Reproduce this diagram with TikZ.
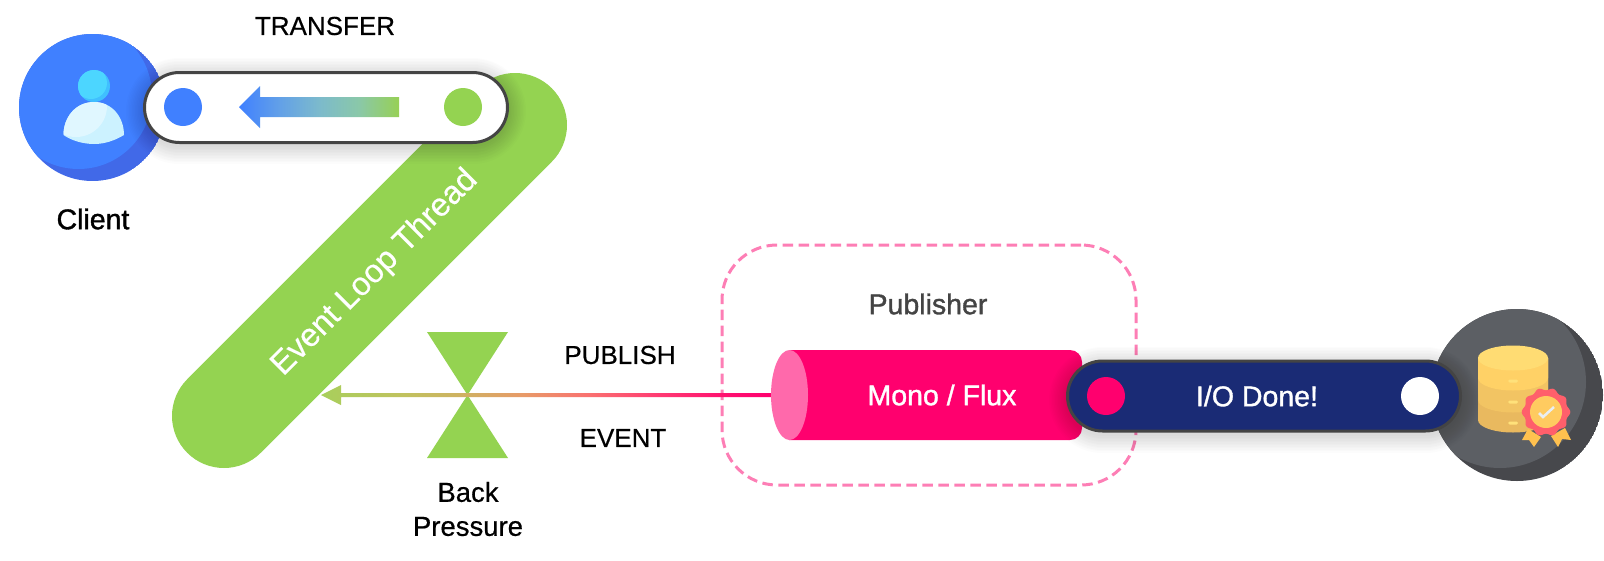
\documentclass[tikz,border=0pt]{standalone}
\usepackage{fontspec}
\setmainfont{Liberation Sans}
\newfontfamily\medfont[FakeBold=1.2]{Liberation Sans}
\newfontfamily\plainfont[FakeBold=0.5]{Liberation Sans}
\usetikzlibrary{calc,shapes.geometric,shapes.misc}

\definecolor{threadgreen}{HTML}{94D351}
\definecolor{clientblue}{HTML}{4080FF}
\definecolor{clientdark}{HTML}{4169E8}
\definecolor{headlight}{HTML}{4CD6FF}
\definecolor{headdark}{HTML}{40BFFF}
\definecolor{bodylight}{HTML}{E0F7FF}
\definecolor{bodydark}{HTML}{CCF2FF}
\definecolor{monopink}{HTML}{FF006E}
\definecolor{monoend}{HTML}{FF69AB}
\definecolor{boxpink}{HTML}{FD7EB5}
\definecolor{donenavy}{HTML}{1A2B75}
\definecolor{pillrim}{HTML}{444444}
\definecolor{dbdark}{HTML}{47484C}
\definecolor{dblight}{HTML}{5C5F64}
\definecolor{dbtop}{HTML}{FFDC73}
\definecolor{dbone}{HTML}{FFD166}
\definecolor{dbtwo}{HTML}{F2C463}
\definecolor{dbthree}{HTML}{E9B95F}
\definecolor{dbmark}{HTML}{FFE17A}
\definecolor{ribbon}{HTML}{FFC14F}
\definecolor{badgered}{HTML}{FF5F6B}
\definecolor{badgegold}{HTML}{FFCB60}
\definecolor{checkgrey}{HTML}{E9EEF2}
\definecolor{flowa}{HTML}{62A0E8}
\definecolor{flowb}{HTML}{7CBACC}
\definecolor{flowc}{HTML}{8AC8A8}
\definecolor{flowd}{HTML}{97D055}
\definecolor{puba}{HTML}{A8CF5C}
\definecolor{pubb}{HTML}{C0C25E}
\definecolor{pubc}{HTML}{D0B062}
\definecolor{pubd}{HTML}{E89A68}
\definecolor{pube}{HTML}{FA6F70}
\definecolor{pubf}{HTML}{FF3A72}
\definecolor{pubg}{HTML}{FF1070}

\pgfdeclarehorizontalshading{transferflow}{100bp}{color(0bp)=(clientblue); color(25bp)=(clientblue); color(37.5bp)=(flowa);
    color(50bp)=(flowb); color(62.5bp)=(flowc); color(75bp)=(flowd); color(100bp)=(flowd)}
\pgfdeclarehorizontalshading{publishflow}{100bp}{color(0bp)=(puba); color(25bp)=(puba); color(34bp)=(pubb); color(41bp)=(pubc);
    color(47.5bp)=(pubd); color(55bp)=(pube); color(62.5bp)=(pubf); color(70bp)=(pubg); color(75bp)=(monopink); color(100bp)=(monopink)}

\tikzset{
    pill/.style={rounded rectangle, draw=pillrim, line width=3pt, minimum height=70pt, inner sep=0pt},
    portdot/.style={circle, minimum size=38pt, inner sep=0pt},
    plainlabel/.style={font=\plainfont\fontsize{26}{34}\selectfont, inner sep=0pt, align=center},
    medlabel/.style={font=\medfont\fontsize{28.5}{34}\selectfont, inner sep=0pt, align=center}
}

\newcommand{\pillshadow}[1]{
    \foreach \w in {3,6,...,36}
        \draw[black, opacity=.01, line cap=round, line width=70pt+\w pt]
            ($(#1.west)+(36,3)$) -- ($(#1.east)+(-36,3)$);
}
\newcommand{\dblayer}[2]{
    \fill[#1] (1478,358) -- (1478,#2) .. controls (1478,#2+7) and (1494,#2+12.5) .. (1513,#2+12.5)
        .. controls (1532,#2+12.5) and (1548,#2+7) .. (1548,#2) -- (1548,358) -- cycle;
}

\begin{document}
\begin{tikzpicture}[x=1pt, y=-1pt]
    \useasboundingbox (0,0) rectangle (1604,560);

    % event loop band
    \coordinate (bandtop) at (515,125);
    \coordinate (bandend) at (224,416);
    \draw[threadgreen, line width=104pt, line cap=round] (bandtop) -- (bandend);
    \node[plainlabel, text=white, rotate=45, font=\plainfont\fontsize{32.5}{34}\selectfont] (threadlabel) at (375,273) {Event Loop Thread};

    % client
    \begin{scope}
        \clip (92.5,107.5) circle [radius=73.5];
        \fill[clientdark] (92.5,107.5) circle [radius=73.5];
        \fill[clientblue] (78.5,95.5) circle [radius=73.5];
    \end{scope}
    \fill[headdark] (94,86) circle [radius=16];
    \begin{scope}
        \clip (94,86) circle [radius=16];
        \fill[headlight] (91,83) circle [radius=16];
    \end{scope}
    \fill[bodydark] (63.5,135) .. controls (63.5,117) and (76,102) .. (94,102) .. controls (112,102) and (124,117) .. (124,135)
        .. controls (114,141) and (104,144) .. (94,144) .. controls (84,144) and (72,141) .. (63.5,135);
    \begin{scope}
        \clip (63.5,135) .. controls (63.5,117) and (76,102) .. (94,102) .. controls (112,102) and (124,117) .. (124,135)
            .. controls (114,141) and (104,144) .. (94,144) .. controls (84,144) and (72,141) .. (63.5,135);
        \fill[bodylight] (76,106) circle [radius=31];
    \end{scope}
    \node[medlabel] (client) at (93,219) {Client};

    % transfer
    \node[plainlabel] (transfer) at (325,26) {TRANSFER};
    \node[pill, minimum width=363pt, draw=none] (transferpill) at (326,107.5) {};
    \pillshadow{transferpill}
    \node[pill, minimum width=363pt, fill=white] (transferpill) at (326,107.5) {};
    \node[portdot, fill=clientblue] (transferin) at (183,107) {};
    \node[portdot, fill=threadgreen] (transferout) at (463,107) {};
    \shade[shading=transferflow]
        (239,107) -- (260,86) -- (260,97) -- (399,97) -- (399,117) -- (260,117) -- (260,128) -- cycle;

    % publisher
    \node[draw=boxpink, dash pattern=on 10.5pt off 5.5pt, line width=3pt, rounded corners=55pt,
        minimum width=414pt, minimum height=240pt] (publisherbox) at (929,365) {};
    \node[medlabel, text=pillrim] (publisher) at (928,304) {Publisher};
    \fill[monopink] (789,350) [rounded corners=12pt] -- (1082,350) -- (1082,440) [sharp corners] -- (789,440) -- cycle;
    \node[ellipse, fill=monoend, minimum width=37pt, minimum height=90pt, inner sep=0pt] (monocap) at (789.5,395) {};
    \node[medlabel, text=white] (mono) at (942,395) {Mono / Flux};

    % back pressure
    \coordinate (valve) at (467.5,395);
    \fill[threadgreen] (427,332) -- (508,332) -- (valve) -- (508,458) -- (427,458) -- (valve) -- cycle;
    \node[plainlabel, font=\plainfont\fontsize{27.5}{34}\selectfont] (backpressure) at (468,509) {Back\\Pressure};

    % publish line
    \coordinate (eventtip) at (321,395);
    \shade[shading=publishflow]
        (eventtip) -- ($(eventtip)+(20,-10)$) -- ($(eventtip)+(20,-2)$) -- ($(monocap.west)+(0,-2)$)
        -- ($(monocap.west)+(0,2)$) -- ($(eventtip)+(20,2)$) -- ($(eventtip)+(20,10)$) -- cycle;
    \node[plainlabel] (publish) at (620,355) {PUBLISH};
    \node[plainlabel] (event) at (623,438) {EVENT};

    % database
    \begin{scope}
        \clip (1517,395) circle [radius=86];
        \fill[dbdark] (1517,395) circle [radius=86];
        \fill[dblight] (1500,382) circle [radius=86];
    \end{scope}
    \dblayer{dbthree}{420}
    \dblayer{dbtwo}{400}
    \dblayer{dbone}{378}
    \fill[dbtop] (1513,358) ellipse [x radius=35, y radius=12.5];
    \foreach \y in {381,402,423}
        \fill[dbmark, rounded corners=1.5pt] (1508,\y-1.5) rectangle (1518,\y+1.5);
    \fill[ribbon] (1528,429) -- (1522,440) -- (1529,440) -- (1534,447) -- (1541,437) -- cycle;
    \fill[ribbon] (1565,428) -- (1571,440) -- (1562,439) -- (1558,447) -- (1551,436) -- cycle;
    \fill[badgered] plot[smooth, domain=0:360, samples=97]
        ({1546+(23+1.3*cos(10*\x))*cos(\x)}, {412+(23+1.3*cos(10*\x))*sin(\x)}) -- cycle;
    \fill[badgegold] (1546,412) circle [radius=16];
    \draw[checkgrey, line width=2.5pt] (1539,413) -- (1543,417) -- (1554,407);

    % i/o done
    \node[pill, minimum width=393pt, draw=none] (donepill) at (1264,396.5) {};
    \pillshadow{donepill}
    \node[pill, minimum width=393pt, fill=donenavy] (donepill) at (1264,396) {};
    \node[portdot, fill=monopink] (donein) at (1106,396) {};
    \node[portdot, fill=white] (doneout) at (1420,396) {};
    \node[medlabel, text=white] (done) at (1257,396) {I/O Done!};
\end{tikzpicture}
\end{document}
